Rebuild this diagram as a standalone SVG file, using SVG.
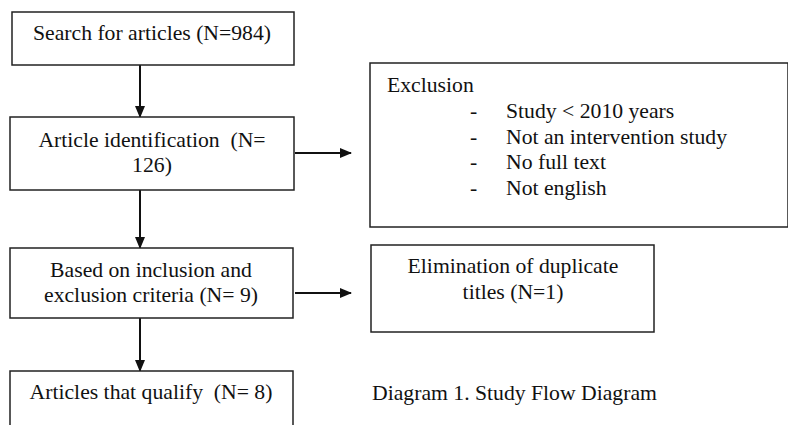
<svg xmlns="http://www.w3.org/2000/svg" width="788" height="425" viewBox="0 0 788 425">
<style>
.box{fill:#fff;stroke:#222;stroke-width:1.5}
.t{font-family:"Liberation Serif","Times New Roman",serif;font-size:21.7px;fill:#111;white-space:pre}
.c{text-anchor:middle}
.ln{stroke:#111;stroke-width:2;fill:none}
</style>
<defs>
<marker id="ah" markerWidth="12" markerHeight="12" refX="11" refY="6" orient="auto" markerUnits="userSpaceOnUse">
<path d="M0,1 L12,6 L0,11 Z" fill="#111"/>
</marker>
</defs>
<rect width="788" height="425" fill="#fff"/>
<g id="connectors">
<line class="ln" x1="140" y1="65" x2="140" y2="117" marker-end="url(#ah)"/>
<line class="ln" x1="140" y1="190" x2="140" y2="248" marker-end="url(#ah)"/>
<line class="ln" x1="140" y1="318" x2="140" y2="371" marker-end="url(#ah)"/>
<line class="ln" x1="295" y1="153" x2="351" y2="153" marker-end="url(#ah)"/>
<line class="ln" x1="295" y1="293" x2="351" y2="293" marker-end="url(#ah)"/>
</g>
<g id="search">
<rect class="box" x="12" y="12" width="282" height="53"/>
<text class="t c" x="152" y="40">Search for articles (N=984)</text>
</g>
<g id="identification">
<rect class="box" x="10" y="117" width="284" height="73"/>
<text class="t c" x="152" y="147" xml:space="preserve">Article identification  (N=</text>
<text class="t c" x="152" y="172">126)</text>
</g>
<g id="criteria">
<rect class="box" x="10" y="248" width="283" height="70"/>
<text class="t c" x="151" y="277">Based on inclusion and</text>
<text class="t c" x="151" y="302">exclusion criteria (N= 9)</text>
</g>
<g id="qualify">
<path class="box" d="M10,426 V371 H293 V426"/>
<text class="t c" x="151" y="399" xml:space="preserve">Articles that qualify  (N= 8)</text>
</g>
<g id="exclusion">
<rect class="box" x="370" y="63" width="418" height="164"/>
<text class="t" x="387" y="92">Exclusion</text>
<text class="t" x="470" y="118">-</text>
<text class="t" x="506" y="118">Study &lt; 2010 years</text>
<text class="t" x="470" y="143.5">-</text>
<text class="t" x="506" y="143.5">Not an intervention study</text>
<text class="t" x="470" y="169">-</text>
<text class="t" x="506" y="169">No full text</text>
<text class="t" x="470" y="194.5">-</text>
<text class="t" x="506" y="194.5">Not english</text>
</g>
<g id="duplicates">
<rect class="box" x="371" y="245" width="283" height="87"/>
<text class="t c" x="513" y="273">Elimination of duplicate</text>
<text class="t c" x="513" y="299">titles (N=1)</text>
</g>
<g id="caption">
<text class="t" x="372" y="400">Diagram 1. Study Flow Diagram</text>
</g>
</svg>
